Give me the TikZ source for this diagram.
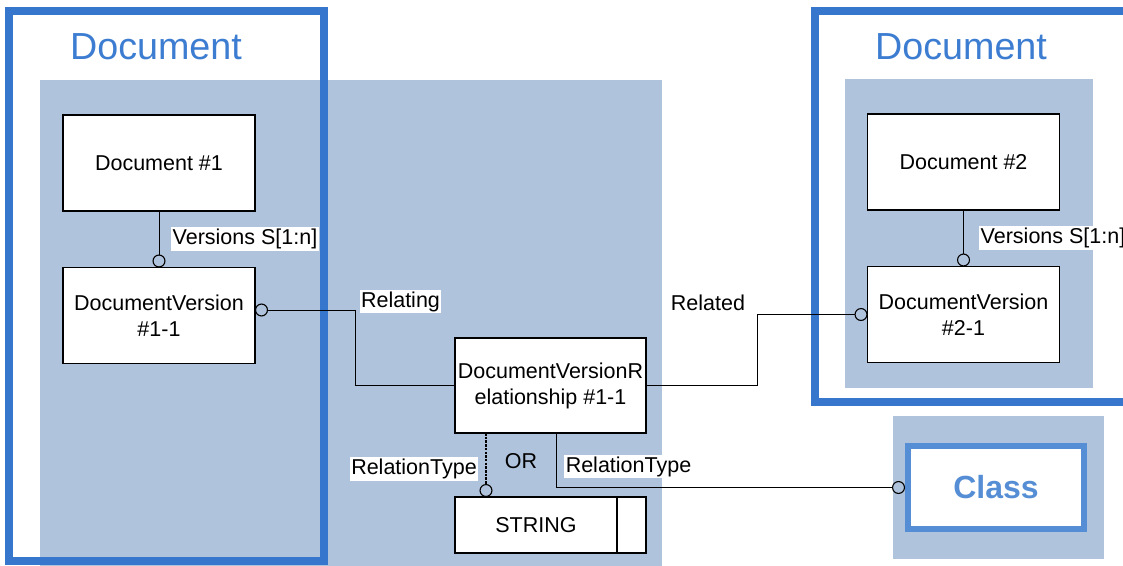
\documentclass[tikz,border=0pt]{standalone}
\usepackage{fontspec}
\setmainfont{Liberation Sans}
\usetikzlibrary{arrows.meta,positioning}

\definecolor{frameblue}{RGB}{55,118,205}
\definecolor{titleblue}{RGB}{61,125,209}
\definecolor{classblue}{RGB}{85,142,213}
\definecolor{pane}{RGB}{176,195,220}

\newcommand{\boxfont}{\fontsize{21.5}{26}\selectfont}

\tikzset{
  ent/.style={draw, fill=white, line width=1.1pt, inner sep=1pt, outer sep=0pt,
    align=center, minimum width=192pt, minimum height=96pt, font=\boxfont},
  lbl/.style={fill=white, inner sep=1.5pt, font=\boxfont},
  rel/.style={line width=1pt, -{Circle[open, length=13pt, width=13pt, line width=1.1pt]}},
  title/.style={text=titleblue, font=\fontsize{37.7}{40}\selectfont},
}

\begin{document}
\begin{tikzpicture}[x=1pt, y=-1pt]

\clip (0,0) rectangle (1123,565);

% Background panes
\fill[pane] (40,80) rectangle (662,570);
\fill[pane] (845,79) rectangle (1093,388);
\fill[pane] (893,416) rectangle (1104,559);

% Document frames
\draw[frameblue, line width=8pt] (9,11) rectangle (324,561);
\draw[frameblue, line width=8pt] (815,11) rectangle (1140,402);
\node[title] (tleft) at (156,47) {Document};
\node[title] (tright) at (961,47) {Document};

% Entities
\node[ent] (doc1) at (159,163) {Document \#1};
\node[ent] (dv1) at (159,315.5) {DocumentVersion\\\#1-1};
\node[ent] (doc2) at (963.5,162) {Document \#2};
\node[ent] (dv2) at (963.5,314.5) {DocumentVersion\\\#2-1};
\node[ent, minimum width=191pt, minimum height=95pt] (dvr) at (550.5,385.5) {DocumentVersionR\\elationship \#1-1};
\node[ent, minimum width=162pt, minimum height=56pt] (str) at (536,525) {STRING};
\node[ent, minimum width=29pt, minimum height=56pt, right=0pt of str] (strtail) {};

% Class
\node[draw=classblue, fill=white, line width=6pt, minimum width=176pt, minimum height=83pt,
  text=classblue, font=\bfseries\fontsize{32}{36}\selectfont] (cls) at (996,487.5) {Class};

% Relations
\draw[rel] (doc1) -- (dv1);
\draw[rel] (doc2) -- (dv2);
\draw[rel] (dvr.west) -- ++(-100,0) |- ([yshift=5.5pt]dv1.east);
\draw[rel] (dvr.east) -- ++(111,0) |- (dv2.west);
\draw[rel] ([shift={(101,0)}]dvr.south west) |- (cls.west);
\draw[rel, line width=2pt, dash pattern=on 2.5pt off 1.2pt] ([shift={(31,0)}]dvr.south west) -- ([shift={(31,0)}]str.north west);

% Labels
\node[lbl] (vers1) at (245,239) {Versions S[1:n]};
\node[lbl, anchor=west] (vers2) at (979,238) {Versions S[1:n]};
\node[lbl] (relating) at (400.5,301.5) {Relating};
\node[font=\boxfont] (related) at (708,303) {Related};
\node[lbl] (rtype1) at (414,469) {RelationType};
\node[font=\boxfont] (or) at (521,461) {OR};
\node[lbl] (rtype2) at (628.5,466.5) {RelationType};

\end{tikzpicture}
\end{document}
